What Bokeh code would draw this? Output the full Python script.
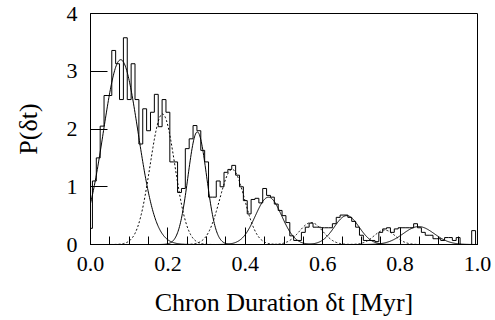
from bokeh.plotting import figure
from bokeh.models import FixedTicker, Range1d
from bokeh.embed import file_html
from bokeh.resources import INLINE
import numpy as np

# ---- data ----
bin_width = 0.01
bin_centers = [k / 100 for k in range(100)]
hist_heights = [
    0.28, 1.10, 1.50, 2.05, 2.58, 2.58, 3.36, 3.13, 2.51, 3.58,
    2.51, 3.13, 2.51, 1.74, 2.35, 1.97, 2.29, 2.60, 2.04, 2.51,
    2.29, 1.43, 1.43, 0.90, 0.97, 1.66, 1.83, 2.06, 1.97, 1.63,
    1.43, 0.82, 0.82, 1.10, 1.00, 1.25, 1.30, 1.37, 1.20, 1.00,
    0.76, 0.53, 0.78, 0.80, 0.72, 0.97, 0.85, 0.82, 0.70, 0.59,
    0.50, 0.38, 0.15, 0.07, 0.07, 0.21, 0.30, 0.37, 0.30, 0.30,
    0.29, 0.29, 0.29, 0.36, 0.47, 0.51, 0.51, 0.47, 0.40, 0.30,
    0.16, 0.07, 0.07, 0.07, 0.05, 0.21, 0.27, 0.29, 0.21, 0.27,
    0.29, 0.29, 0.29, 0.29, 0.36, 0.29, 0.21, 0.16, 0.16, 0.10,
    0.10, 0.07, 0.12, 0.12, 0.07, 0.12, 0.00, 0.00, 0.00, 0.24,
]

# Gaussian components (amplitude, centre, width)
peak_amps    = [3.20, 2.26, 1.95, 1.30, 0.82, 0.38, 0.50, 0.25, 0.31]
peak_centers = [0.078, 0.186, 0.276, 0.366, 0.460, 0.570, 0.662, 0.760, 0.848]
peak_widths  = [0.045, 0.032, 0.024, 0.032, 0.034, 0.030, 0.032, 0.027, 0.040]
peak_dashed  = [False, True, False, True, False, True, False, True, False]

x_ticks = [0.0, 0.2, 0.4, 0.6, 0.8, 1.0]
x_tick_labels = ["0.0", "0.2", "0.4", "0.6", "0.8", "1.0"]
y_ticks = [0, 1, 2, 3, 4]
y_tick_labels = ["0", "1", "2", "3", "4"]

FONT = "Liberation Serif"

p = figure(width=495, height=320, output_backend="svg", toolbar_location=None,
           x_range=Range1d(0, 1), y_range=Range1d(0, 4),
           min_border_left=90, min_border_right=18, min_border_top=13,
           min_border_bottom=76)
p.grid.visible = False
p.outline_line_color = "black"
p.outline_line_width = 1
p.background_fill_color = "white"
p.border_fill_color = "white"

# histogram outline
xs, ys = [0.0], [0.0]
for c, h in zip(bin_centers, hist_heights):
    lo = max(0.0, c - bin_width / 2)
    hi = c + bin_width / 2
    xs += [lo, hi]
    ys += [h, h]
xs.append(xs[-1]); ys.append(0.0)
p.line(xs, ys, line_color="black", line_width=1)

# gaussian fits
grid = np.linspace(0, 1, 801)
for a, m, s, d in zip(peak_amps, peak_centers, peak_widths, peak_dashed):
    g = a * np.exp(-0.5 * ((grid - m) / s) ** 2)
    if d:
        p.line(grid, g, line_color="black", line_width=1, line_dash="2 2")
    else:
        p.line(grid, g, line_color="black", line_width=1)

# axes
xa = p.xaxis[0]
xa.ticker = FixedTicker(ticks=x_ticks,
                        minor_ticks=[i * 0.05 for i in range(21)])
xa.major_label_overrides = {t: l for t, l in zip(x_ticks, x_tick_labels)}
ya = p.yaxis[0]
ya.ticker = FixedTicker(ticks=y_ticks, minor_ticks=[])
ya.major_label_overrides = {t: l for t, l in zip(y_ticks, y_tick_labels)}

for ax in (xa, ya):
    ax.axis_line_color = "black"
    ax.axis_line_width = 1
    ax.major_tick_in = 17
    ax.major_tick_out = 0
    ax.minor_tick_in = 8
    ax.minor_tick_out = 0
    ax.major_tick_line_color = "black"
    ax.minor_tick_line_color = "black"
    ax.major_label_text_font = FONT
    ax.major_label_text_font_size = "22px"
    ax.major_label_text_color = "black"
    ax.axis_label_text_font = FONT
    ax.axis_label_text_font_size = "26px"
    ax.axis_label_text_font_style = "normal"
    ax.axis_label_text_color = "black"

xa.axis_label = "Chron Duration δt [Myr]"
ya.axis_label = "P(δt)"
xa.major_label_standoff = 12
xa.axis_label_standoff = 14
ya.major_label_standoff = 13
ya.axis_label_standoff = 21

open("out.html", "w").write(file_html(p, INLINE))
